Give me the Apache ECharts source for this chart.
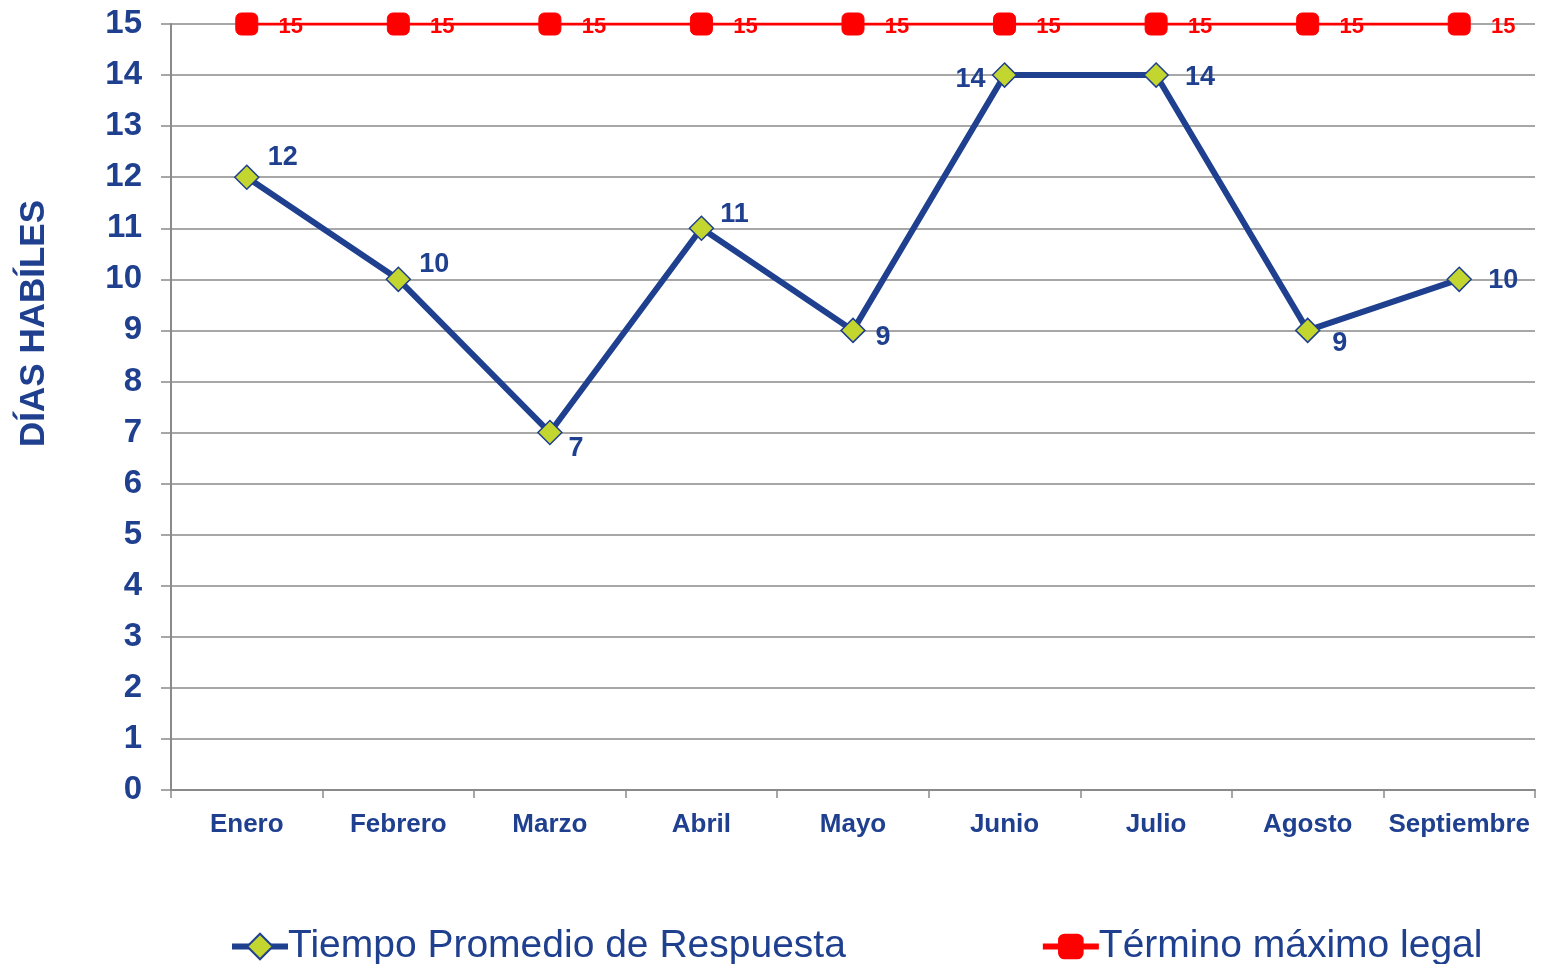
<!DOCTYPE html>
<html><head><meta charset="utf-8">
<script src="https://cdn.jsdelivr.net/npm/echarts@6/dist/echarts.min.js"></script>
<style>html,body{margin:0;padding:0;background:#fff}#c{width:1544px;height:964px}</style>
</head><body><div id="c"></div>
<script>
const months = ['Enero','Febrero','Marzo','Abril','Mayo','Junio','Julio','Agosto','Septiembre'];
const tiempoPromedio = [12,10,7,11,9,14,14,9,10];
const terminoMaximo = [15,15,15,15,15,15,15,15,15];
const yTicks = [0,1,2,3,4,5,6,7,8,9,10,11,12,13,14,15];
const seriesNames = ['Tiempo Promedio de Respuesta','Término máximo legal'];
const yAxisTitle = 'DÍAS HABÍLES';

const BLUE = '#1F3F8F';
const FONT = '"Liberation Sans", Arial, sans-serif';
// label offsets per point (style only)
const labelOffsets = [[36,-20],[36,-15],[26,16],[33,-14],[30,7],[-34,4],[44,2],[32,13],[44,1]];

const chart = echarts.init(document.getElementById('c'));
chart.setOption({
  animation:false,
  grid:{left:171,right:9,top:24,bottom:174},
  legend:{
    top:922,left:224,itemGap:194,itemWidth:56,itemHeight:32,
    lineStyle:{width:6},
    textStyle:{fontFamily:FONT,fontSize:39,color:BLUE,padding:[0,0,0,-5]},
    data:seriesNames
  },
  graphic:[{type:'text',left:17,top:200,rotation:Math.PI/2,
    style:{text:yAxisTitle,font:'bold 35px '+FONT,fill:BLUE}}],
  xAxis:{type:'category',data:months,boundaryGap:true,
    axisLine:{lineStyle:{color:'#8a8a8a',width:2}},
    axisTick:{show:true,length:8,interval:0,lineStyle:{color:'#8a8a8a',width:1.5}},
    axisLabel:{interval:0,fontFamily:FONT,fontWeight:'bold',fontSize:26,color:BLUE,margin:22}},
  yAxis:{type:'value',min:0,max:15,interval:1,
    axisLine:{show:true,lineStyle:{color:'#8a8a8a',width:2}},
    axisTick:{show:true,length:10,lineStyle:{color:'#8a8a8a',width:1.5}},
    splitLine:{lineStyle:{color:'#8a8a8a',width:1.5}},
    axisLabel:{fontFamily:FONT,fontWeight:'bold',fontSize:33,color:BLUE,margin:29,
      formatter:v=>yTicks.includes(v)?String(v):''}},
  series:[
    {name:seriesNames[0],type:'line',z:3,
     data:tiempoPromedio.map((v,i)=>({value:v,label:{offset:labelOffsets[i]}})),
     lineStyle:{color:BLUE,width:6},
     symbol:'diamond',symbolSize:[24,24],
     itemStyle:{color:'#C3D62F',borderColor:BLUE,borderWidth:1.5},
     label:{show:true,position:'inside',fontFamily:FONT,fontWeight:'bold',fontSize:27,color:BLUE}},
    {name:seriesNames[1],type:'line',z:4,
     data:terminoMaximo,
     lineStyle:{color:'#FF0000',width:3},
     symbol:'roundRect',symbolSize:22,
     itemStyle:{color:'#FF0000',borderColor:'#FF0000'},
     label:{show:true,position:'inside',offset:[44,3],fontFamily:FONT,fontWeight:'bold',fontSize:22,color:'#FF0000'}}
  ]
});
</script></body></html>
